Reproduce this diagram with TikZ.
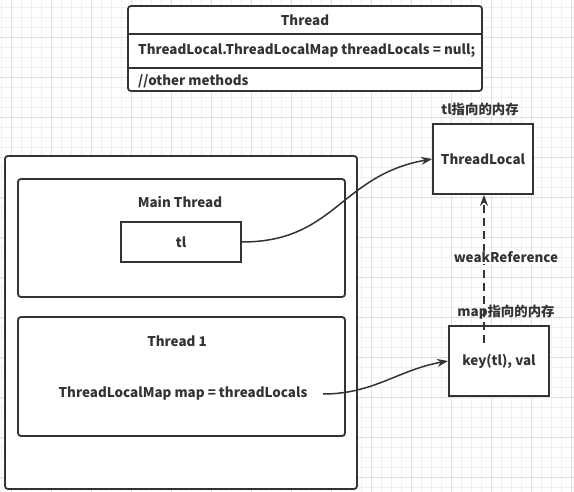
\documentclass[tikz,border=0pt]{standalone}
\usepackage{fontspec}
\setmainfont{Noto Sans CJK SC}
\usetikzlibrary{arrows.meta}
\definecolor{ink}{HTML}{333333}
\definecolor{gridminor}{HTML}{F0F0F0}
\definecolor{gridmajor}{HTML}{E0E0E0}
\begin{document}
\begin{tikzpicture}[
        x=1pt, y=1pt,
        font=\fontsize{13.4}{16}\selectfont\bfseries,
        text=ink,
        box/.style={rectangle, draw=ink, line width=1.8pt, fill=white, inner sep=0pt},
        rbox/.style={box, rounded corners=3pt},
        lbl/.style={inner sep=1pt},
        arrow/.style={-{Stealth[length=11pt,width=8pt]}, draw=ink, line width=1.5pt}
    ]
        \useasboundingbox (0,0) rectangle (574,-492);
        
        % Grid
        \foreach \gx in {1.7,11.7,...,571.7} \draw[gridminor, line width=0.6pt] (\gx,0) -- (\gx,-492);
        \foreach \gy in {7,17,...,487} \draw[gridminor, line width=0.6pt] (0,-\gy) -- (574,-\gy);
        \foreach \gx in {11.7,51.7,...,571.7} \draw[gridmajor, line width=0.8pt] (\gx,0) -- (\gx,-492);
        \foreach \gy in {37,77,...,477} \draw[gridmajor, line width=0.8pt] (0,-\gy) -- (574,-\gy);
        
        % Thread class
        \node[rbox, minimum width=354, minimum height=85] (thread) at (305,-48.5) {};
        \draw[ink, line width=1.8pt] (128,-34) -- (482,-34);
        \draw[ink, line width=1.8pt] (128,-68) -- (482,-68);
        \node[lbl] (threadtitle) at (305,-20) {Thread};
        \node[lbl, anchor=west] (threadfield) at (137,-51) {ThreadLocal.ThreadLocalMap threadLocals = null;};
        \node[lbl, anchor=west] (threadmethods) at (137,-81) {//other methods};
        
        % Stack side
        \node[rbox, minimum width=352, minimum height=333] (heap) at (181,-322.5) {};
        \node[rbox, minimum width=327, minimum height=118] (mainthread) at (181.5,-238) {};
        \node[lbl] (maintitle) at (180,-202) {Main Thread};
        \node[box, minimum width=120, minimum height=40] (tl) at (181,-242) {tl};
        \node[rbox, minimum width=327, minimum height=119] (thread1) at (181.5,-376.5) {};
        \node[lbl] (thread1title) at (177,-341) {Thread 1};
        \node[lbl, minimum width=280] (mapvar) at (183,-394) {ThreadLocalMap map = threadLocals};
        
        % Memory side
        \node[box, minimum width=100, minimum height=70] (tlobj) at (483,-159) {ThreadLocal};
        \node[lbl] (tlmem) at (480,-109) {tl指向的内存};
        \node[box, minimum width=100, minimum height=70] (kv) at (499,-361) {key(tl), val};
        \node[lbl] (mapmem) at (506,-312) {map指向的内存};
        \coordinate (wk) at (484,-343);
        
        % Arrows
        \draw[arrow] (tl.east) to[out=0, in=190, looseness=1.15] (tlobj.west);
        \draw[arrow] (mapvar.east) to[out=0, in=190] (kv.west);
        \draw[arrow, dash pattern=on 8pt off 5pt] (wk) -- node[pos=0.58, xshift=22, fill=white, lbl] {weakReference} (wk |- tlobj.south);
    \end{tikzpicture}
\end{document}
